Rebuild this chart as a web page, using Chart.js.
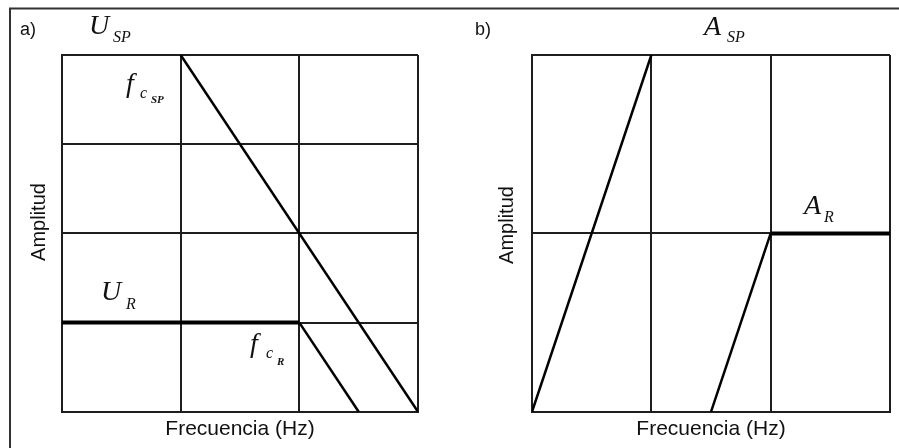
<!DOCTYPE html>
<html>
<head>
<meta charset="utf-8">
<script src="https://cdn.jsdelivr.net/npm/chart.js@4"></script>
<style>
  html, body { margin: 0; padding: 0; background: #fff; }
  #wrap { position: relative; width: 899px; height: 448px; }
  #wrap canvas { position: absolute; left: 0; top: 0; }
</style>
</head>
<body>
<div id="wrap">
  <canvas id="panelA" width="899" height="448"></canvas>
  <canvas id="panelB" width="899" height="448"></canvas>
</div>
<script>
// ---- Panel a: levels U_SP and U_R versus frequency ----
const uSpFreq = [1, 3];
const uSpAmp  = [4, 0];
const uRFreq  = [0, 2, 2.5];
const uRAmp   = [1, 1, 0];

// ---- Panel b: levels A_SP and A_R versus frequency ----
const aSpFreq = [0, 1];
const aSpAmp  = [0, 2];
const aRFreq  = [1.5, 2, 3];
const aRAmp   = [0, 1, 1];

// axis extents (grid cells)
const freqRange  = [0, 3];
const ampRangeA  = [0, 4];
const ampRangeB  = [0, 2];

const xTitle = 'Frecuencia (Hz)';
const yTitle = 'Amplitud';

const INK = '#111';
const GRID = '#1e1e1e';
const SANS = 'Arial, "Liberation Sans", sans-serif';
const SERIF = '"Times New Roman", "Liberation Serif", serif';

function pts(xs, ys) { return xs.map((x, i) => ({ x: x, y: ys[i] })); }

// flat stretches of a curve are drawn heavier than the sloped ones
const flatHeavy = {
  borderWidth: c => (c.p0.parsed.y === c.p1.parsed.y ? 4 : 2.5)
};

function lineSet(xs, ys) {
  return {
    data: pts(xs, ys),
    borderColor: '#000',
    borderWidth: 2.5,
    pointRadius: 0,
    tension: 0,
    fill: false,
    borderJoinStyle: 'miter',
    segment: flatHeavy
  };
}

function scalesFor(yRange) {
  const common = {
    type: 'linear',
    ticks: { display: false, stepSize: 1 },
    grid: { color: GRID, lineWidth: 2, drawTicks: false },
    border: { display: true, color: GRID, width: 2 }
  };
  return {
    x: Object.assign({}, common, {
      min: freqRange[0], max: freqRange[1],
      title: {
        display: true, text: xTitle, color: INK,
        font: { family: SANS, size: 21 },
        padding: { top: 5, bottom: 2 }
      }
    }),
    y: Object.assign({}, common, { min: yRange[0], max: yRange[1] })
  };
}

// Text annotations: panel letter, rotated amplitude label and the math symbols
// (each symbol is a main letter followed by subscript parts).
const annotate = {
  id: 'annotate',
  afterDraw(chart, args, opts) {
    const ctx = chart.ctx;
    ctx.save();
    ctx.fillStyle = INK;
    ctx.textAlign = 'left';
    ctx.textBaseline = 'alphabetic';
    (opts.pieces || []).forEach(p => {
      ctx.font = p.font;
      ctx.fillText(p.text, p.x, p.y);
    });
    if (opts.yLabel) {
      ctx.font = '20px ' + SANS;
      ctx.textAlign = 'center';
      ctx.textBaseline = 'middle';
      ctx.translate(opts.yLabel.x, opts.yLabel.y);
      ctx.rotate(-Math.PI / 2);
      ctx.fillText(yTitle, 0, 0);
    }
    ctx.restore();
  }
};

// outer frame lines (top and left edges of the figure)
const frame = {
  id: 'frame',
  beforeDraw(chart) {
    const ctx = chart.ctx;
    ctx.save();
    ctx.strokeStyle = '#333';
    ctx.lineWidth = 2;
    ctx.beginPath();
    ctx.moveTo(899, 8.5);
    ctx.lineTo(10, 8.5);
    ctx.lineTo(10, 448);
    ctx.stroke();
    ctx.restore();
  }
};

const it = (size, bold) => 'italic ' + (bold ? 'bold ' : '') + size + 'px ' + SERIF;

new Chart(document.getElementById('panelA'), {
  type: 'line',
  data: { datasets: [lineSet(uSpFreq, uSpAmp), lineSet(uRFreq, uRAmp)] },
  plugins: [frame, annotate],
  options: {
    responsive: false,
    animation: false,
    events: [],
    layout: { padding: { left: 62, top: 55, right: 481, bottom: 4 } },
    scales: scalesFor(ampRangeA),
    plugins: {
      legend: { display: false },
      tooltip: { enabled: false },
      annotate: {
        yLabel: { x: 39, y: 222 },
        pieces: [
          { text: 'a)', font: '18px ' + SANS, x: 20, y: 35 },
          { text: 'U',  font: it(28), x: 89, y: 34 },
          { text: 'SP', font: it(16), x: 113, y: 42 },
          { text: 'f',  font: it(28), x: 126, y: 92 },
          { text: 'c',  font: it(16), x: 140, y: 98 },
          { text: 'SP', font: it(11, true), x: 151, y: 103 },
          { text: 'U',  font: it(28), x: 101, y: 300 },
          { text: 'R',  font: it(16), x: 126, y: 309 },
          { text: 'f',  font: it(28), x: 250, y: 352 },
          { text: 'c',  font: it(16), x: 266, y: 358 },
          { text: 'R',  font: it(11, true), x: 277, y: 365 }
        ]
      }
    }
  }
});

new Chart(document.getElementById('panelB'), {
  type: 'line',
  data: { datasets: [lineSet(aSpFreq, aSpAmp), lineSet(aRFreq, aRAmp)] },
  plugins: [annotate],
  options: {
    responsive: false,
    animation: false,
    events: [],
    layout: { padding: { left: 532, top: 55, right: 9, bottom: 4 } },
    scales: scalesFor(ampRangeB),
    plugins: {
      legend: { display: false },
      tooltip: { enabled: false },
      annotate: {
        yLabel: { x: 507, y: 225 },
        pieces: [
          { text: 'b)', font: '18px ' + SANS, x: 475, y: 35 },
          { text: 'A',  font: it(28), x: 704, y: 35 },
          { text: 'SP', font: it(16), x: 727, y: 42 },
          { text: 'A',  font: it(28), x: 804, y: 214 },
          { text: 'R',  font: it(16), x: 824, y: 222 }
        ]
      }
    }
  }
});
</script>
</body>
</html>
